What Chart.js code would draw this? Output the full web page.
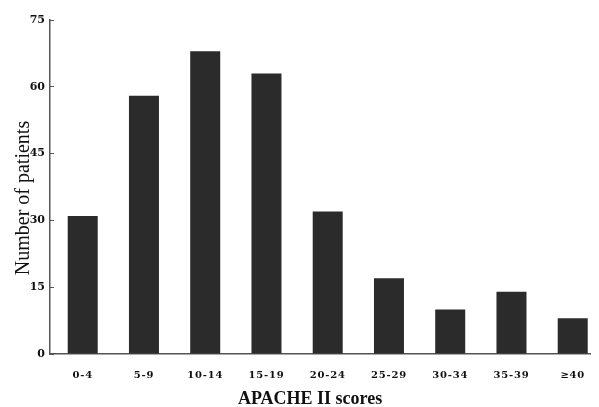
<!DOCTYPE html>
<html>
<head>
<meta charset="utf-8">
<script src="https://cdn.jsdelivr.net/npm/chart.js@4/dist/chart.umd.min.js"></script>
<style>
  html, body { margin: 0; padding: 0; background: #fff; }
  #wrap { width: 599px; height: 407px; }
</style>
</head>
<body>
<div id="wrap"><canvas id="chart" width="599" height="407"></canvas></div>
<script>
'use strict';

// ── Data ──────────────────────────────────────────────────────
const categories = ['0-4', '5-9', '10-14', '15-19', '20-24', '25-29', '30-34', '35-39', '≥40'];
const patients   = [31, 58, 68, 63, 32, 17, 10, 14, 8];
const yTicks     = [0, 15, 30, 45, 60, 75];

const INK   = '#2b2b2b';
const AXIS  = '#555';
const SERIF = "'Liberation Serif', 'DejaVu Serif', serif";
const TICKF = "'DejaVu Serif', serif";

// small tweaks to how the scales draw their text (tracking, title nudges)
const scaleTweaks = {
  x: { spacing: '0.8px', title: [-10, 3] },
  y: { spacing: '0px',   title: [0, 11] },
};
const tweakPlugin = {
  id: 'tweakPlugin',
  beforeDraw(chart) {
    Object.keys(scaleTweaks).forEach((id) => {
      const s = chart.scales[id];
      if (!s || s._tweaked) return;
      const t = scaleTweaks[id];
      const c = chart.ctx;
      const drawLabels = s.drawLabels.bind(s);
      const drawTitle  = s.drawTitle.bind(s);
      s.drawLabels = (area) => {
        c.save();
        c.letterSpacing = t.spacing;
        drawLabels(area);
        c.restore();
      };
      s.drawTitle = () => {
        c.save();
        c.translate(t.title[0], t.title[1]);
        drawTitle();
        c.restore();
      };
      s._tweaked = true;
    });
  },
};

const ctx = document.getElementById('chart').getContext('2d');
new Chart(ctx, {
  type: 'bar',
  data: {
    datasets: [{
      data: patients.map((v, i) => ({ x: i, y: v })),
      backgroundColor: INK,
      borderWidth: 0,
      barPercentage: 0.49,
      categoryPercentage: 1,
    }],
  },
  options: {
    responsive: false,
    animation: false,
    layout: { padding: { top: 20, right: 4, bottom: 0, left: 0 } },
    plugins: { legend: { display: false }, tooltip: { enabled: false } },
    scales: {
      x: {
        type: 'linear',
        offset: false,
        min: -0.534,
        max: 8.285,
        afterBuildTicks: (axis) => { axis.ticks = categories.map((_, i) => ({ value: i })); },
        afterFit: (axis) => { axis.height = 53; },
        grid: { display: true, offset: false, drawOnChartArea: false, drawTicks: false },
        border: { color: AXIS, width: 1.5 },
        ticks: {
          callback: (v) => categories[v],
          color: '#111',
          font: { family: TICKF, size: 10, weight: 'bold' },
          padding: 15,
          maxRotation: 0,
          autoSkip: false,
        },
        title: {
          display: true,
          text: 'APACHE II scores',
          color: '#111',
          font: { family: SERIF, size: 18, weight: 'bold' },
          padding: { top: 2, bottom: 0 },
        },
      },
      y: {
        min: 0,
        max: 75,
        afterBuildTicks: (axis) => { axis.ticks = yTicks.map((v) => ({ value: v })); },
        afterFit: (axis) => { axis.width = 50; },
        grid: { drawOnChartArea: false, drawTicks: true, tickLength: -4, color: AXIS, lineWidth: 1 },
        border: { color: AXIS, width: 1.5 },
        ticks: {
          color: '#111',
          font: { family: TICKF, size: 11, weight: 'bold' },
          padding: 9,
        },
        title: {
          display: true,
          text: 'Number of patients',
          color: '#111',
          font: { family: SERIF, size: 20 },
          padding: { top: 12, bottom: 0 },
        },
      },
    },
  },
  plugins: [tweakPlugin],
});
</script>
</body>
</html>
